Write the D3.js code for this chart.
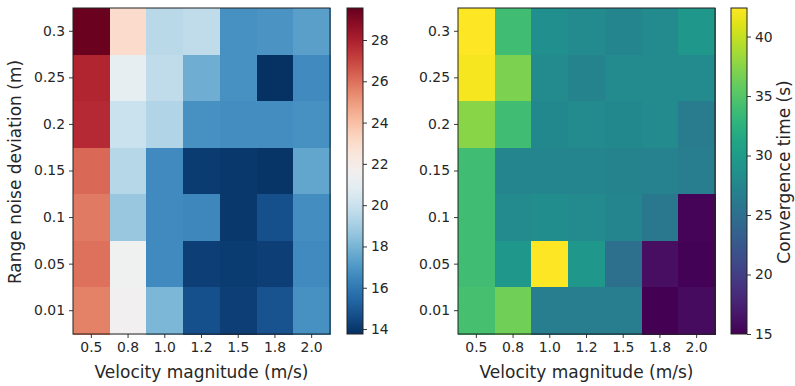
<!DOCTYPE html>
<html>
<head>
<meta charset="utf-8">
<script src="https://cdn.jsdelivr.net/npm/d3@7"></script>
<style>
  body { margin: 0; background: #fff; }
  svg text { font-family: "DejaVu Sans", sans-serif; fill: #262626; }
</style>
</head>
<body>
<svg id="chart" width="795" height="386"></svg>
<script>
// categories
const velocities = ["0.5", "0.8", "1.0", "1.2", "1.5", "1.8", "2.0"];
const noiseLevels = ["0.3", "0.25", "0.2", "0.15", "0.1", "0.05", "0.01"]; // top -> bottom

// left panel values (rows follow noiseLevels, cols follow velocities)
const leftValues = [
  [29.5, 23.0, 19.5, 19.7, 16.8, 16.9, 17.3],
  [27.8, 21.0, 19.7, 17.8, 16.8, 13.8, 16.6],
  [27.7, 20.0, 19.3, 16.8, 16.7, 16.7, 16.8],
  [26.2, 19.4, 16.6, 14.1, 14.0, 13.9, 17.5],
  [25.8, 18.7, 16.6, 16.5, 14.0, 14.7, 16.7],
  [26.0, 21.5, 16.6, 14.2, 14.1, 14.2, 16.6],
  [25.6, 21.6, 18.1, 14.7, 14.2, 14.8, 16.8]
];
const leftDomain = [13.76, 29.55];
const leftTicks = [14, 16, 18, 20, 22, 24, 26, 28];

// right panel values: convergence time (s)
const rightValues = [
  [42.4, 34.0, 28.5, 28.0, 27.5, 28.0, 29.5],
  [42.0, 37.0, 28.0, 27.3, 28.0, 28.0, 28.0],
  [37.5, 34.0, 27.8, 28.0, 27.8, 28.0, 26.3],
  [34.0, 27.5, 27.5, 27.5, 27.3, 27.0, 26.5],
  [34.0, 28.0, 28.3, 28.0, 27.5, 26.0, 15.3],
  [34.0, 29.5, 42.4, 29.5, 25.0, 16.0, 15.2],
  [34.3, 36.5, 26.5, 26.5, 26.5, 15.0, 15.8]
];
const rightDomain = [15, 42.4];
const rightTicks = [15, 20, 25, 30, 35, 40];

const svg = d3.select("#chart");

function panel(opts) {
  const g = svg.append("g");
  const x = d3.scaleBand().domain(velocities).range([opts.x0, opts.x1]);
  const y = d3.scaleBand().domain(noiseLevels).range([opts.y0, opts.y1]);
  const color = d3.scaleSequential(opts.interp).domain(opts.domain);

  const cells = [];
  opts.values.forEach((row, i) => row.forEach((v, j) => {
    cells.push({ r: noiseLevels[i], c: velocities[j], v: v });
  }));

  g.append("g").selectAll("rect").data(cells).join("rect")
    .attr("x", d => x(d.c))
    .attr("y", d => y(d.r))
    .attr("width", x.bandwidth() + 0.5)
    .attr("height", y.bandwidth() + 0.5)
    .attr("fill", d => color(d.v))
    .attr("shape-rendering", "crispEdges");

  g.append("rect")
    .attr("x", opts.x0).attr("y", opts.y0)
    .attr("width", opts.x1 - opts.x0).attr("height", opts.y1 - opts.y0)
    .attr("fill", "none").attr("stroke", "#222").attr("stroke-width", 1);

  const xAxis = g.append("g")
    .attr("transform", `translate(0,${opts.y1})`)
    .call(d3.axisBottom(x).tickSize(4).tickPadding(4));
  const yAxis = g.append("g")
    .attr("transform", `translate(${opts.x0},0)`)
    .call(d3.axisLeft(y).tickSize(4).tickPadding(4));
  [xAxis, yAxis].forEach(a => {
    a.select(".domain").remove();
    a.selectAll("line").attr("stroke", "#222").attr("stroke-width", 0.9);
    a.selectAll("text").style("font-size", "13.9px").attr("fill", "#262626");
  });

  g.append("text")
    .attr("x", (opts.x0 + opts.x1) / 2).attr("y", 378)
    .attr("text-anchor", "middle")
    .style("font-size", "17px")
    .text("Velocity magnitude (m/s)");

  // colorbar
  const cb = opts.cb;
  const cy = d3.scaleLinear().domain(opts.domain).range([opts.y1, opts.y0]);
  const gradId = "grad" + opts.id;
  const grad = svg.append("defs").append("linearGradient")
    .attr("id", gradId).attr("x1", 0).attr("y1", 1).attr("x2", 0).attr("y2", 0);
  d3.range(0, 1.0001, 0.05).forEach(t => {
    grad.append("stop").attr("offset", t)
      .attr("stop-color", color(opts.domain[0] + t * (opts.domain[1] - opts.domain[0])));
  });
  g.append("rect")
    .attr("x", cb).attr("y", opts.y0)
    .attr("width", 16).attr("height", opts.y1 - opts.y0)
    .attr("fill", `url(#${gradId})`)
    .attr("stroke", "#222").attr("stroke-width", 1);
  const cAxis = g.append("g")
    .attr("transform", `translate(${cb + 16},0)`)
    .call(d3.axisRight(cy).tickValues(opts.ticks).tickSize(4).tickPadding(4));
  cAxis.select(".domain").remove();
  cAxis.selectAll("line").attr("stroke", "#222").attr("stroke-width", 0.9);
  cAxis.selectAll("text").style("font-size", "13.9px").attr("fill", "#262626");
  return g;
}

panel({
  id: "L", x0: 73, x1: 330, y0: 8, y1: 334, values: leftValues,
  domain: leftDomain, ticks: leftTicks,
  interp: t => d3.interpolateRdBu(1 - t), cb: 347
});
panel({
  id: "R", x0: 458, x1: 715, y0: 8, y1: 334, values: rightValues,
  domain: rightDomain, ticks: rightTicks,
  interp: d3.interpolateViridis, cb: 731
});

svg.append("text")
  .attr("transform", "translate(21,172) rotate(-90)")
  .attr("text-anchor", "middle")
  .style("font-size", "17px")
  .text("Range noise deviation (m)");

svg.append("text")
  .attr("transform", "translate(790,172) rotate(-90)")
  .attr("text-anchor", "middle")
  .style("font-size", "17px")
  .text("Convergence time (s)");
</script>
</body>
</html>
